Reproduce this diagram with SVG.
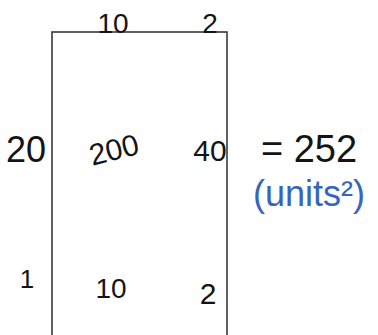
<svg xmlns="http://www.w3.org/2000/svg" width="378" height="335" viewBox="0 0 378 335">
<style>
.t{font-family:"Liberation Sans",Arial,sans-serif;fill:#141414;text-anchor:middle}
.b{font-family:"Liberation Sans",Arial,sans-serif;fill:#3565bd;text-anchor:middle}
</style>
<rect width="378" height="335" fill="#ffffff"/>
<g id="rectangle">
<rect x="52" y="32" width="175" height="310" fill="none" stroke="#3a3a3a" stroke-width="1.6"/>
</g>
<g id="labels">
<text class="t" x="113" y="33" font-size="28">10</text>
<text class="t" x="210" y="33" font-size="28">2</text>
<text class="t" x="26" y="162" font-size="36">20</text>
<text class="t" x="114" y="160" font-size="30" transform="rotate(-14 114 150)">200</text>
<text class="t" x="210" y="161" font-size="30">40</text>
<text class="t" x="309" y="162" font-size="38">= 252</text>
<text class="b" x="309" y="206" font-size="36">(units²)</text>
<text class="t" x="27" y="288" font-size="26">1</text>
<text class="t" x="111" y="298" font-size="28">10</text>
<text class="t" x="208" y="304" font-size="30">2</text>
</g>
</svg>
